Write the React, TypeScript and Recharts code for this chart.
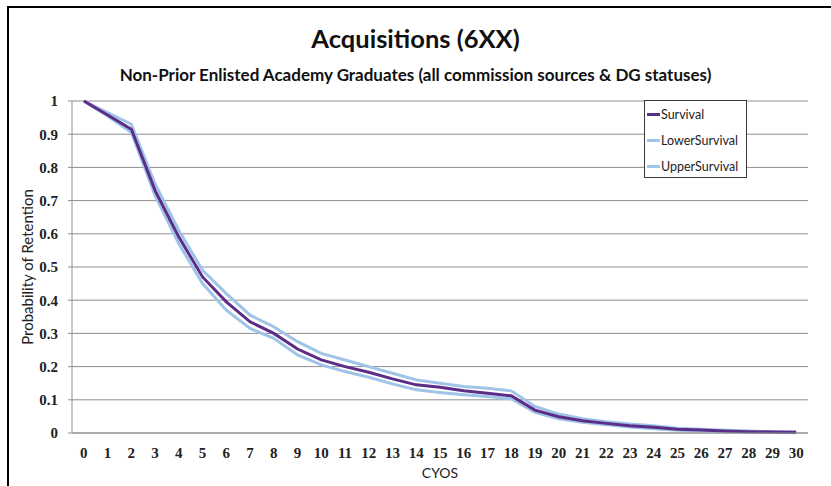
import React from 'react';
import { LineChart, Line, XAxis, YAxis, CartesianGrid, Legend, Label } from 'recharts';

const cyos = [0, 1, 2, 3, 4, 5, 6, 7, 8, 9, 10, 11, 12, 13, 14, 15, 16, 17, 18, 19, 20, 21, 22, 23, 24, 25, 26, 27, 28, 29, 30];

const survival = [
	1, 0.958, 0.915, 0.73, 0.59, 0.47, 0.395, 0.335, 0.3, 0.253, 0.22, 0.2, 0.183, 0.163, 0.145, 0.138,
	0.127, 0.12, 0.112, 0.069, 0.049, 0.037, 0.029, 0.022, 0.017, 0.011, 0.009, 0.006, 0.004, 0.003, 0.002,
];

const lowerSurvival = [
	1, 0.955, 0.905, 0.715, 0.57, 0.45, 0.37, 0.315, 0.285, 0.235, 0.205, 0.185, 0.168, 0.148, 0.13, 0.122,
	0.115, 0.11, 0.103, 0.062, 0.043, 0.032, 0.025, 0.018, 0.013, 0.008, 0.006, 0.004, 0.003, 0.002, 0.001,
];

const upperSurvival = [
	1, 0.965, 0.93, 0.75, 0.61, 0.49, 0.42, 0.355, 0.32, 0.275, 0.24, 0.22, 0.2, 0.18, 0.16, 0.15,
	0.14, 0.135, 0.127, 0.08, 0.057, 0.043, 0.034, 0.027, 0.022, 0.014, 0.011, 0.008, 0.006, 0.004, 0.003,
];

const yTicks = [0, 0.1, 0.2, 0.3, 0.4, 0.5, 0.6, 0.7, 0.8, 0.9, 1];

const seriesNames = ['Survival', 'LowerSurvival', 'UpperSurvival'];
const seriesColors = ['#5c2d87', '#9fc4e8', '#9fc4e8'];

// tick marks sit on the category boundaries, labels in between
const edgeTicks = [...cyos.map((c) => c - 0.5), cyos[cyos.length - 1] + 0.5];

const chartData = cyos.map((c, i) => ({
	cyos: c,
	Survival: survival[i],
	LowerSurvival: lowerSurvival[i],
	UpperSurvival: upperSurvival[i],
}));

const sansFont = 'Lato, "Open Sans", sans-serif';
const serifFont = '"Liberation Serif", serif';

const LegendBox = () => (
	<div
		style={{
			width: 103,
			height: 78,
			border: '1px solid #3a3a3a',
			background: '#fff',
			boxSizing: 'border-box',
			fontFamily: sansFont,
			fontSize: 12.5,
			color: '#222',
		}}
	>
		{seriesNames.map((name, i) => (
			<div key={name} style={{ height: 26, display: 'flex', alignItems: 'center' }}>
				<span
					style={{
						display: 'inline-block',
						width: 13,
						height: 3,
						marginLeft: 2,
						marginRight: 1,
						background: seriesColors[i],
					}}
				/>
				<span>{name}</span>
			</div>
		))}
	</div>
);

const App = () => {
	return (
		<div style={{ position: 'absolute', left: 0, top: 0, width: 831, height: 486, background: '#fff', overflow: 'hidden' }}>
			<div
				style={{
					position: 'absolute',
					left: 7,
					top: 6,
					width: 840,
					height: 500,
					borderLeft: '2px solid #000',
					borderTop: '2px solid #000',
				}}
			/>
			<div
				style={{
					position: 'absolute',
					left: 0,
					top: 23,
					width: 831,
					textAlign: 'center',
					fontFamily: sansFont,
					fontWeight: 'bold',
					fontSize: 25.5,
					color: '#111',
				}}
			>
				Acquisitions (6XX)
			</div>
			<div
				style={{
					position: 'absolute',
					left: 0,
					top: 64,
					width: 831,
					textAlign: 'center',
					fontFamily: sansFont,
					fontWeight: 'bold',
					fontSize: 17,
					color: '#111',
				}}
			>
				Non-Prior Enlisted Academy Graduates (all commission sources &amp; DG statuses)
			</div>
			<div
				style={{
					position: 'absolute',
					left: 27 - 100,
					top: 267 - 10,
					width: 200,
					height: 20,
					lineHeight: '20px',
					textAlign: 'center',
					transform: 'rotate(-90deg)',
					fontFamily: sansFont,
					fontSize: 15,
					color: '#222',
				}}
			>
				Probability of Retention
			</div>
			<div style={{ position: 'absolute', left: 0, top: 0 }}>
				<LineChart width={831} height={486} data={chartData} margin={{ top: 101, right: 23, bottom: 23, left: 8 }}>
					<CartesianGrid vertical={false} stroke='#8f8f8f' />
					<XAxis
						xAxisId='edge'
						type='number'
						dataKey='cyos'
						domain={[-0.5, 30.5]}
						ticks={edgeTicks}
						tick={false}
						tickSize={5}
						tickLine={{ stroke: '#8f8f8f' }}
						axisLine={false}
						height={0}
					/>
					<XAxis
						type='number'
						dataKey='cyos'
						domain={[-0.5, 30.5]}
						ticks={cyos}
						interval={0}
						tickLine={false}
						tickSize={5}
						tickMargin={9}
						axisLine={{ stroke: '#8f8f8f' }}
						height={30}
						tick={{ fontFamily: serifFont, fontWeight: 'bold', fontSize: 15, fill: '#222' }}
					>
						<Label
							value='CYOS'
							position='bottom'
							offset={5}
							style={{ fontFamily: sansFont, fontSize: 14, fill: '#222' }}
						/>
					</XAxis>
					<YAxis
						type='number'
						domain={[0, 1]}
						ticks={yTicks}
						interval={0}
						width={64}
						tickSize={4}
						tickMargin={10}
						tickLine={{ stroke: '#8f8f8f' }}
						axisLine={{ stroke: '#8f8f8f' }}
						tick={{ fontFamily: serifFont, fontWeight: 'bold', fontSize: 15, fill: '#222' }}
					/>
					<Legend
						layout='vertical'
						align='center'
						verticalAlign='middle'
						content={() => <LegendBox />}
						wrapperStyle={{ left: 644, top: 100, width: 103, height: 78 }}
					/>
					<Line
						type='linear'
						dataKey='LowerSurvival'
						stroke={seriesColors[1]}
						strokeWidth={3}
						dot={false}
						isAnimationActive={false}
					/>
					<Line
						type='linear'
						dataKey='UpperSurvival'
						stroke={seriesColors[2]}
						strokeWidth={3}
						dot={false}
						isAnimationActive={false}
					/>
					<Line
						type='linear'
						dataKey='Survival'
						stroke={seriesColors[0]}
						strokeWidth={3}
						dot={false}
						isAnimationActive={false}
					/>
				</LineChart>
			</div>
		</div>
	);
};

export default App;
